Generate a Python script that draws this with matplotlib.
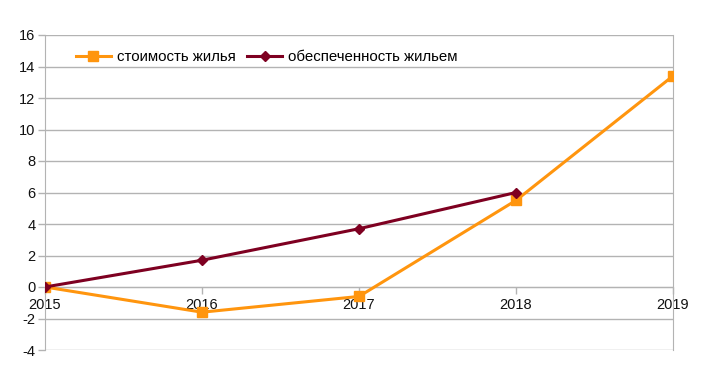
import matplotlib
matplotlib.use("Agg")
import matplotlib.pyplot as plt

years = [2015, 2016, 2017, 2018, 2019]
cost = [0.0, -1.6, -0.6, 5.5, 13.4]
supply_years = [2015, 2016, 2017, 2018]
supply = [0.0, 1.7, 3.7, 6.0]
yticks = [-4, -2, 0, 2, 4, 6, 8, 10, 12, 14, 16]

plt.rcParams['font.family'] = ['Liberation Sans', 'DejaVu Sans']
plt.rcParams['axes.unicode_minus'] = False

fig = plt.figure(figsize=(7.04, 3.74), dpi=100)
ax = fig.add_axes([45/704, 1-350/374, (673-45)/704, (350-35)/374])

grid_c = '#b3b3b3'
ax.plot(years, cost, color='#ff950e', lw=2.2, marker='s', ms=7.5,
        label='стоимость жилья', zorder=3)
ax.plot(supply_years, supply, color='#7e0021', lw=2.2, marker='D', ms=5.5,
        label='обеспеченность жильем', zorder=4)

ax.set_xlim(2015, 2019)
ax.set_ylim(-4, 16)
ax.set_yticks(yticks)
ax.set_xticks(years)
ax.yaxis.grid(True, color=grid_c, lw=1)
ax.set_axisbelow(True)
ax.spines['top'].set_visible(False)
ax.spines['right'].set_color(grid_c)
ax.spines['left'].set_color(grid_c)
ax.spines['bottom'].set_position(('data', 0))
ax.spines['bottom'].set_color(grid_c)
ax.tick_params(axis='both', colors=grid_c, labelcolor='#111111', labelsize=10.5, width=1)
ax.tick_params(axis='y', length=5, pad=2)
ax.tick_params(axis='x', length=5, pad=3)

ax.legend(loc='upper left', bbox_to_anchor=(0.028, 0.995), ncol=2, frameon=False,
          fontsize=10.8, handlelength=2.3, columnspacing=0.8, handletextpad=0.4)

fig.savefig('out.png', dpi=100)
